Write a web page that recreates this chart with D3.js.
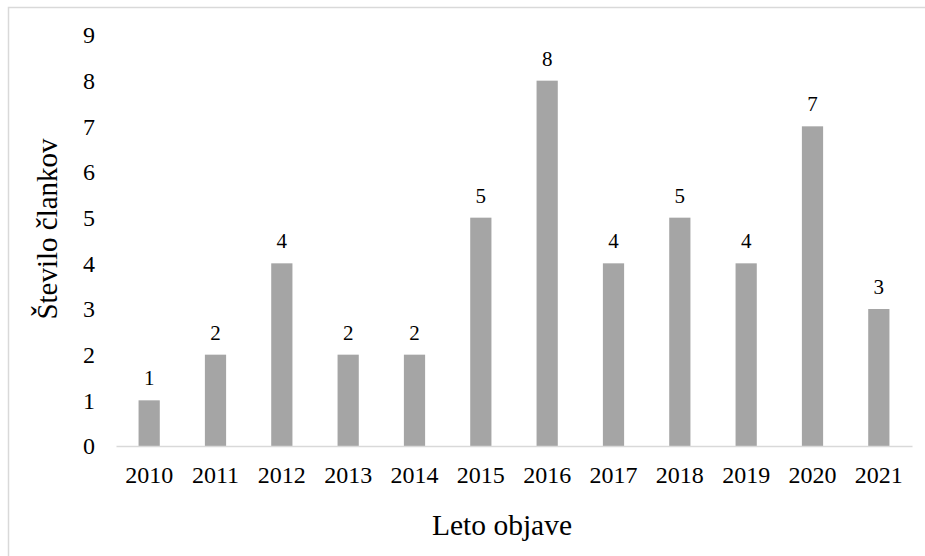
<!DOCTYPE html>
<html>
<head>
<meta charset="utf-8">
<script src="https://cdn.jsdelivr.net/npm/d3@7"></script>
<style>
  html, body { margin: 0; padding: 0; background: #fff; }
  svg { display: block; }
  text { font-family: "Liberation Serif", "Times New Roman", serif; fill: #000; }
</style>
</head>
<body>
<svg id="chart" width="925" height="556"></svg>
<script>
// Number of articles per publication year
const years = ["2010", "2011", "2012", "2013", "2014", "2015", "2016", "2017", "2018", "2019", "2020", "2021"];
const counts = [1, 2, 4, 2, 2, 5, 8, 4, 5, 4, 7, 3];
const yTicks = [0, 1, 2, 3, 4, 5, 6, 7, 8, 9];
const xTitle = "Leto objave";
const yTitle = "Število člankov";

const svg = d3.select("#chart");
const W = 925, H = 556;
const serif = '"Liberation Serif", "Times New Roman", serif';

// outer frame
svg.append("rect")
  .attr("x", 8.5).attr("y", 7.5)
  .attr("width", W + 20).attr("height", H + 20)
  .attr("fill", "#fff")
  .attr("stroke", "#d9d9d9").attr("stroke-width", 1.5);

const m = { left: 116, right: 912, top: 35, bottom: 446 };

const x = d3.scaleBand().domain(years).range([m.left, m.right]).paddingInner(0.68).paddingOuter(0.34);
const y = d3.scaleLinear().domain([0, 9]).range([m.bottom, m.top]);

// y axis labels (no line, no ticks)
const yAxis = svg.append("g").attr("transform", `translate(${m.left},0)`)
  .attr("font-family", serif)
  .call(d3.axisLeft(y).tickValues(yTicks).tickSize(0).tickPadding(21));
yAxis.attr("font-family", serif);
yAxis.select(".domain").remove();
yAxis.selectAll("text")
  .style("font-family", serif)
  .style("font-size", "24px").attr("fill", "#000");

// bars
svg.append("g").selectAll("rect").data(counts).join("rect")
  .attr("x", (d, i) => x(years[i]))
  .attr("y", d => y(d))
  .attr("width", x.bandwidth())
  .attr("height", d => y(0) - y(d))
  .attr("fill", "#a5a5a5");

// value labels
svg.append("g").selectAll("text").data(counts).join("text")
  .attr("x", (d, i) => x(years[i]) + x.bandwidth() / 2)
  .attr("y", d => y(d) - 15)
  .attr("text-anchor", "middle")
  .style("font-family", serif)
  .style("font-size", "21px")
  .text(d => d);

// x axis
const xAxis = svg.append("g").attr("transform", `translate(0,${m.bottom})`)
  .call(d3.axisBottom(x).tickSize(0).tickPadding(20));
xAxis.attr("font-family", serif);
xAxis.select(".domain").attr("stroke", "#d9d9d9").attr("stroke-width", 1.5);
xAxis.selectAll("text")
  .style("font-family", serif)
  .style("font-size", "24px").attr("fill", "#000");

// axis titles
svg.append("text")
  .attr("x", 502).attr("y", 535)
  .attr("text-anchor", "middle")
  .style("font-family", serif)
  .style("font-size", "29.5px")
  .text(xTitle);

svg.append("text")
  .attr("transform", "translate(57,229) rotate(-90)")
  .attr("text-anchor", "middle")
  .style("font-family", serif)
  .style("font-size", "29px")
  .text(yTitle);
</script>
</body>
</html>
